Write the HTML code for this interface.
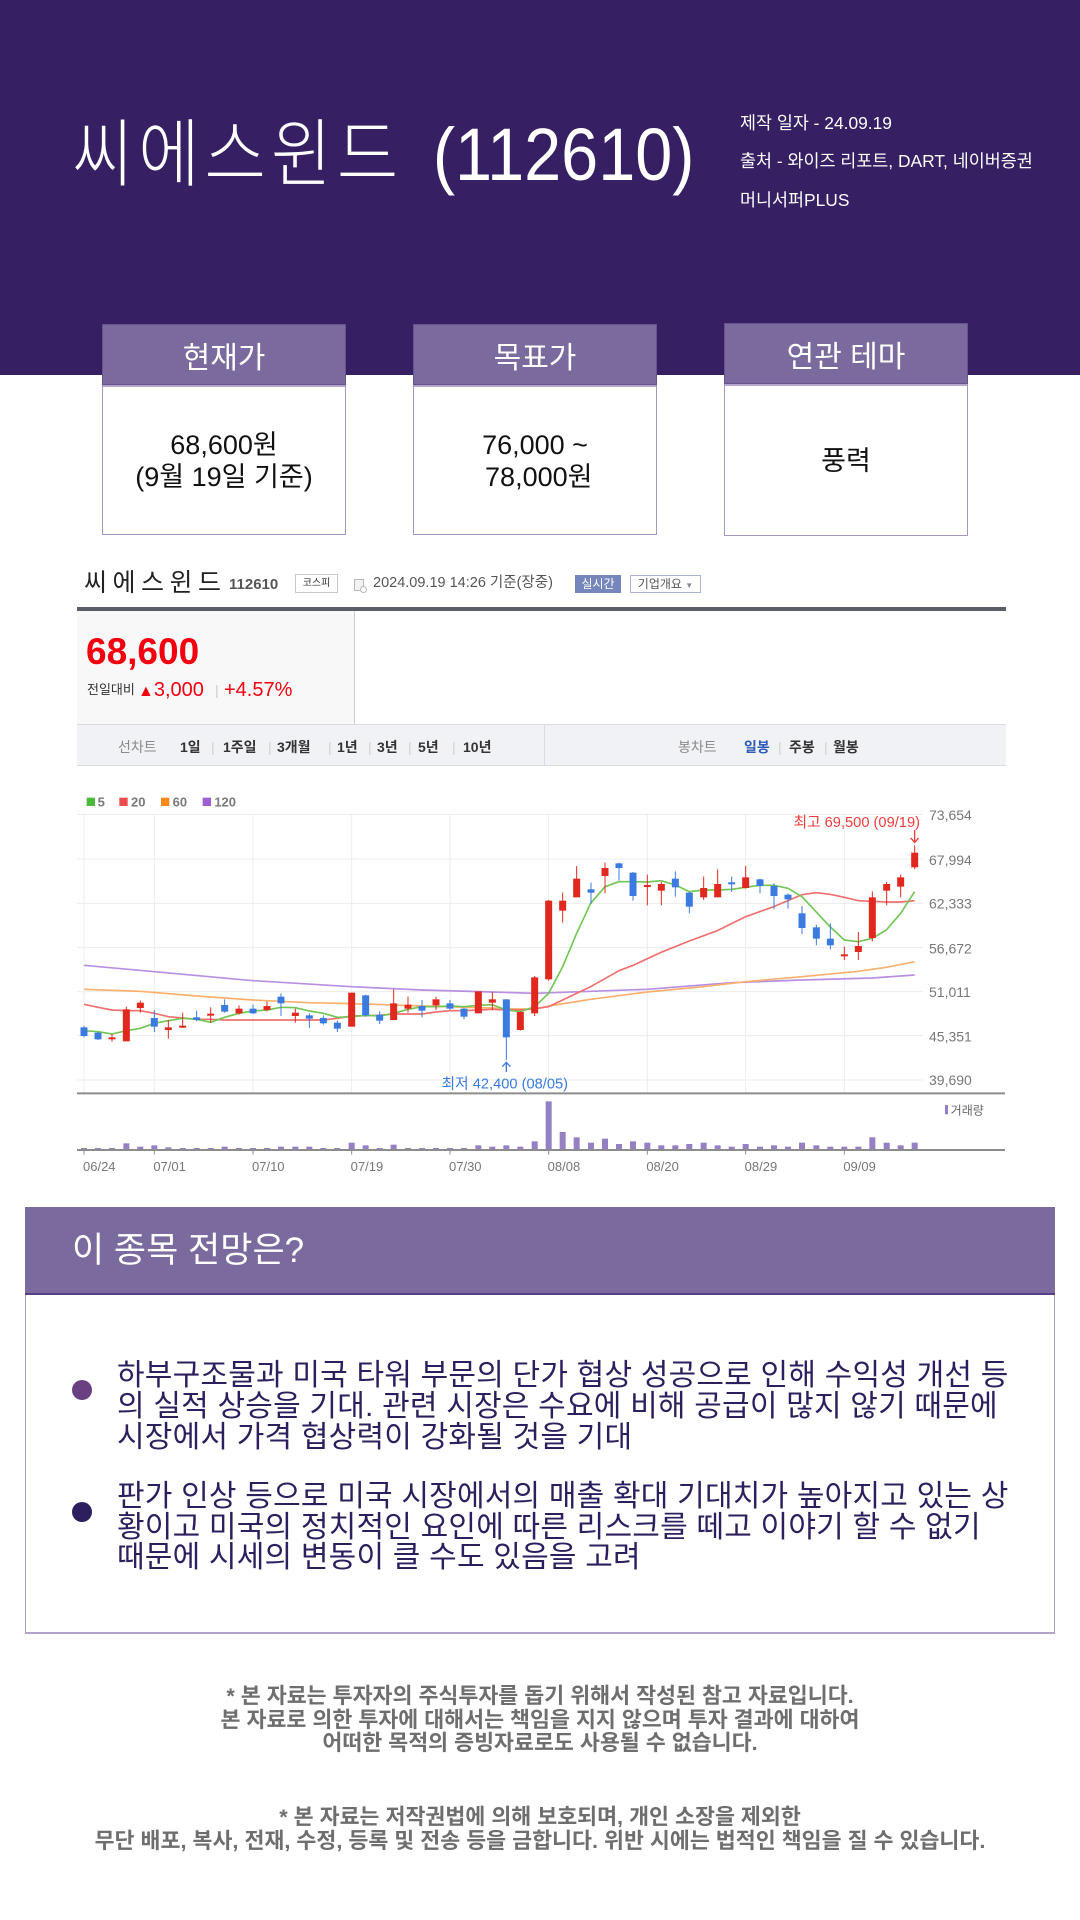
<!DOCTYPE html>
<html lang="ko">
<head>
<meta charset="utf-8">
<style>
  html,body{margin:0;padding:0;}
  body{width:1080px;height:1920px;position:relative;overflow:hidden;background:#fff;
       font-family:"Liberation Sans","Noto Sans CJK KR",sans-serif;}
  .abs{position:absolute;white-space:nowrap;}
  .hdr{position:absolute;left:0;top:0;width:1080px;height:375px;background:#361f62;}
  .title{left:72px;top:118px;font-size:74px;line-height:74px;color:#fff;font-weight:300;transform:scaleX(0.9);transform-origin:0 50%;}
  .info{left:740px;font-size:17.4px;line-height:20px;color:#fff;}
  .box{position:absolute;top:324px;width:244px;height:211px;border:1px solid #a596c3;background:#fff;box-sizing:border-box;}
  .box .bh{position:absolute;left:-1px;top:-1px;width:244px;height:61px;background:#7b6a9d;border:1px solid #66538d;box-sizing:border-box;
           color:#fff;font-size:30px;display:flex;align-items:center;justify-content:center;}
  .box .bl{position:absolute;left:0;top:60px;width:242px;height:2px;background:#b5a8cc;}
  .box .bb{position:absolute;left:0;top:62px;width:242px;bottom:0;display:flex;align-items:center;justify-content:center;
           text-align:center;font-size:27px;line-height:32px;color:#111;}
  .nav{font-size:14px;font-weight:bold;color:#333;top:738px;line-height:18px;}
  .sep{color:#d0d0d0;font-weight:normal;}
  .bul{position:absolute;width:20px;height:20px;border-radius:50%;}
  .para{left:117px;font-size:30px;line-height:31px;color:#2d1f5e;letter-spacing:0.2px;}
  .foot{left:0;width:1080px;text-align:center;font-size:21.7px;line-height:23.5px;font-weight:bold;color:#6e6e6e;}
</style>
</head>
<body>

<div class="hdr"></div>
<div class="abs title"><span style="letter-spacing:5.5px;">씨에스윈드</span><span style="margin-left:33px;">(112610)</span></div>
<div class="abs info" style="top:113px;">제작 일자 - 24.09.19</div>
<div class="abs info" style="top:151px;">출처 - 와이즈 리포트, DART, 네이버증권</div>
<div class="abs info" style="top:190px;">머니서퍼PLUS</div>

<div class="box" style="left:102px;">
  <div class="bh">현재가</div><div class="bl"></div>
  <div class="bb">68,600원<br>(9월 19일 기준)</div>
</div>
<div class="box" style="left:413px;">
  <div class="bh">목표가</div><div class="bl"></div>
  <div class="bb">76,000 ~<br>&nbsp;78,000원</div>
</div>
<div class="box" style="left:724px;height:213px;top:323px;">
  <div class="bh">연관 테마</div><div class="bl"></div>
  <div class="bb">풍력</div>
</div>

<!-- chart header -->
<div class="abs" style="left:84px;top:568px;font-size:25px;line-height:30px;color:#222;letter-spacing:5.5px;">씨에스윈드</div>
<div class="abs" style="left:229px;top:576px;font-size:15px;line-height:18px;color:#555;font-weight:bold;">112610</div>
<div class="abs" style="left:295px;top:574px;width:43px;height:19px;border:1px solid #c8c8c8;box-sizing:border-box;font-size:10px;line-height:17px;text-align:center;color:#333;">코스피</div>
<div class="abs" style="left:354px;top:579px;width:10px;height:12px;border:1px solid #b8b8b8;box-sizing:border-box;background:#f2f2f2;"></div>
<div class="abs" style="left:360px;top:586px;width:7px;height:7px;border:1px solid #b8b8b8;border-radius:50%;background:#fff;box-sizing:border-box;"></div>
<div class="abs" style="left:373px;top:574px;font-size:14.5px;line-height:18px;color:#555;">2024.09.19 14:26 기준(장중)</div>
<div class="abs" style="left:575px;top:575px;width:46px;height:18px;background:#7586bd;color:#fff;font-size:12px;line-height:18px;text-align:center;">실시간</div>
<div class="abs" style="left:630px;top:575px;width:71px;height:18px;border:1px solid #a9b4d6;box-sizing:border-box;color:#555;font-size:12px;line-height:16px;text-align:center;">기업개요 <span style="font-size:8px;color:#888;">▼</span></div>

<div class="abs" style="left:77px;top:607px;width:929px;height:4px;background:#5b5e66;"></div>
<div class="abs" style="left:77px;top:611px;width:277px;height:113px;background:#f8f8f8;border-right:1px solid #cfcfcf;"></div>
<div class="abs" style="left:86px;top:634px;font-size:37px;line-height:36px;font-weight:bold;color:#f2000f;">68,600</div>
<div class="abs" style="left:87px;top:680px;font-size:13px;line-height:20px;color:#333;">전일대비</div>
<div class="abs" style="left:138px;top:678px;font-size:20px;line-height:24px;color:#f2000f;"><span style="font-size:16px;">▲</span>3,000</div>
<div class="abs" style="left:215px;top:680px;font-size:14px;line-height:20px;color:#ccc;">|</div>
<div class="abs" style="left:224px;top:678px;font-size:20px;line-height:24px;color:#f2000f;">+4.57%</div>

<div class="abs" style="left:77px;top:724px;width:929px;height:42px;background:#f1f2f6;border-top:1px solid #d9dbe0;border-bottom:1px solid #d9dbe0;box-sizing:border-box;"></div>
<div class="abs" style="left:544px;top:724px;width:1px;height:42px;background:#d9dbe0;"></div>
<div class="abs nav" style="left:118px;color:#8a8a8a;font-weight:normal;">선차트</div>
<div class="abs nav" style="left:180px;">1일</div>
<div class="abs nav sep" style="left:211px;">|</div>
<div class="abs nav" style="left:223px;">1주일</div>
<div class="abs nav sep" style="left:268px;">|</div>
<div class="abs nav" style="left:277px;">3개월</div>
<div class="abs nav sep" style="left:328px;">|</div>
<div class="abs nav" style="left:337px;">1년</div>
<div class="abs nav sep" style="left:368px;">|</div>
<div class="abs nav" style="left:377px;">3년</div>
<div class="abs nav sep" style="left:408px;">|</div>
<div class="abs nav" style="left:418px;">5년</div>
<div class="abs nav sep" style="left:452px;">|</div>
<div class="abs nav" style="left:463px;">10년</div>
<div class="abs nav" style="left:678px;color:#8a8a8a;font-weight:normal;">봉차트</div>
<div class="abs nav" style="left:744px;color:#2e59b8;">일봉</div>
<div class="abs nav sep" style="left:778px;">|</div>
<div class="abs nav" style="left:789px;">주봉</div>
<div class="abs nav sep" style="left:824px;">|</div>
<div class="abs nav" style="left:833px;">월봉</div>

<!-- chart -->
<svg class="abs" style="left:0;top:780px;" width="1080" height="400" viewBox="0 0 3240 1200" xmlns="http://www.w3.org/2000/svg">
  <g font-family="Liberation Sans, sans-serif" font-size="39" font-weight="bold" fill="#7a7a7a">
    <rect x="260" y="53" width="25" height="25" fill="#4cb83c"/><text x="293" y="79">5</text>
    <rect x="358" y="53" width="25" height="25" fill="#ee4c4c"/><text x="393" y="79">20</text>
    <rect x="483" y="53" width="25" height="25" fill="#f7891d"/><text x="518" y="79">60</text>
    <rect x="608" y="53" width="25" height="25" fill="#9e5fd0"/><text x="643" y="79">120</text>
  </g>
  <g stroke="#ececec" stroke-width="3">
    <line x1="231" x2="2769" y1="103" y2="103"/>
    <line x1="231" x2="2769" y1="237" y2="237"/>
    <line x1="231" x2="2769" y1="370" y2="370"/>
    <line x1="231" x2="2769" y1="503" y2="503"/>
    <line x1="231" x2="2769" y1="635" y2="635"/>
    <line x1="231" x2="2769" y1="767" y2="767"/>
    <line x1="231" x2="2769" y1="900" y2="900"/>
    <line x1="252" x2="252" y1="103" y2="938"/>
    <line x1="463" x2="463" y1="103" y2="938"/>
    <line x1="759" x2="759" y1="103" y2="938"/>
    <line x1="1055" x2="1055" y1="103" y2="938"/>
    <line x1="1350" x2="1350" y1="103" y2="938"/>
    <line x1="1646" x2="1646" y1="103" y2="938"/>
    <line x1="1942" x2="1942" y1="103" y2="938"/>
    <line x1="2237" x2="2237" y1="103" y2="938"/>
    <line x1="2533" x2="2533" y1="103" y2="938"/>
  </g>
  <g fill="none" stroke-width="5" stroke-linejoin="round">
    <polyline stroke="#b88fe2" points="252,556 463,575 759,602 1055,620 1266,630 1477,636 1604,640 1941,628 2195,608 2406,600 2617,594 2744,585"/>
    <polyline stroke="#fbb06d" points="252,628 421,634 590,648 759,660 928,668 1097,672 1266,678 1435,683 1604,688 1646,678 1772,658 1941,636 2110,620 2237,605 2406,590 2575,574 2659,562 2744,545"/>
    <polyline stroke="#f07070" points="252,673 294,682 336,690 379,692 421,692 463,700 505,710 548,714 590,718 632,718 674,720 759,720 886,720 970,720 1012,715 1055,708 1097,707 1139,706 1181,702 1266,702 1308,696 1350,692 1392,692 1435,690 1477,688 1519,690 1561,690 1604,686 1646,680 1688,660 1772,620 1857,572 1899,556 1983,517 2068,483 2152,452 2237,410 2321,380 2364,362 2406,344 2448,338 2490,343 2533,352 2575,362 2617,364 2659,366 2702,366 2744,362"/>
    <polyline stroke="#72c655" points="252,752 294,755 336,762 379,752 421,745 463,730 505,722 548,715 590,718 632,727 674,712 717,700 759,693 801,690 843,682 886,683 928,693 970,700 1012,712 1055,710 1097,706 1139,708 1181,700 1224,688 1266,680 1308,680 1350,678 1392,680 1435,676 1477,674 1519,690 1561,695 1604,680 1646,640 1688,560 1730,460 1772,370 1815,320 1857,305 1899,305 1941,306 1983,302 2026,315 2068,335 2110,330 2152,330 2195,328 2237,322 2279,316 2321,316 2364,325 2406,350 2448,395 2490,440 2533,480 2575,485 2617,475 2659,450 2702,400 2744,335"/>
  </g>
  <g fill="#e0281e" stroke="#e0281e">
    <g stroke-width="3">
      <line x1="336" x2="336" y1="762" y2="785"/><line x1="379" x2="379" y1="680" y2="784"/>
      <line x1="421" x2="421" y1="662" y2="698"/><line x1="505" x2="505" y1="720" y2="776"/>
      <line x1="548" x2="548" y1="698" y2="744"/><line x1="632" x2="632" y1="682" y2="728"/>
      <line x1="717" x2="717" y1="676" y2="704"/><line x1="801" x2="801" y1="664" y2="694"/>
      <line x1="886" x2="886" y1="686" y2="728"/><line x1="1055" x2="1055" y1="638" y2="740"/>
      <line x1="1181" x2="1181" y1="628" y2="720"/><line x1="1224" x2="1224" y1="650" y2="698"/>
      <line x1="1308" x2="1308" y1="650" y2="690"/><line x1="1435" x2="1435" y1="634" y2="700"/>
      <line x1="1477" x2="1477" y1="636" y2="690"/><line x1="1561" x2="1561" y1="694" y2="752"/>
      <line x1="1604" x2="1604" y1="588" y2="708"/><line x1="1646" x2="1646" y1="360" y2="602"/>
      <line x1="1688" x2="1688" y1="338" y2="428"/><line x1="1730" x2="1730" y1="258" y2="352"/>
      <line x1="1815" x2="1815" y1="248" y2="340"/><line x1="1942" x2="1942" y1="284" y2="376"/>
      <line x1="1984" x2="1984" y1="306" y2="376"/><line x1="2111" x2="2111" y1="290" y2="360"/>
      <line x1="2153" x2="2153" y1="268" y2="352"/><line x1="2237" x2="2237" y1="258" y2="326"/>
      <line x1="2533" x2="2533" y1="500" y2="540"/><line x1="2575" x2="2575" y1="456" y2="540"/>
      <line x1="2617" x2="2617" y1="334" y2="484"/><line x1="2660" x2="2660" y1="306" y2="376"/>
      <line x1="2702" x2="2702" y1="284" y2="352"/><line x1="2744" x2="2744" y1="196" y2="268"/>
    </g>
    <g stroke="none">
      <rect x="325.5" y="772" width="21" height="6"/><rect x="368.5" y="688" width="21" height="96"/>
      <rect x="410.5" y="668" width="21" height="16"/><rect x="494.5" y="742" width="21" height="8"/>
      <rect x="537.5" y="737" width="21" height="6"/><rect x="621.5" y="701" width="21" height="6"/>
      <rect x="706.5" y="686" width="21" height="14"/><rect x="790.5" y="678" width="21" height="12"/>
      <rect x="875.5" y="698" width="21" height="10"/><rect x="1044.5" y="638" width="21" height="102"/>
      <rect x="1170.5" y="670" width="21" height="50"/><rect x="1213.5" y="674" width="21" height="12"/>
      <rect x="1297.5" y="658" width="21" height="18"/><rect x="1424.5" y="634" width="21" height="66"/>
      <rect x="1466.5" y="658" width="21" height="10"/><rect x="1550.5" y="696" width="21" height="54"/>
      <rect x="1593.5" y="592" width="21" height="108"/><rect x="1635.5" y="362" width="21" height="236"/>
      <rect x="1677.5" y="362" width="21" height="30"/><rect x="1719.5" y="296" width="21" height="56"/>
      <rect x="1804.5" y="264" width="21" height="24"/><rect x="1931.5" y="315" width="21" height="6"/>
      <rect x="1973.5" y="312" width="21" height="20"/><rect x="2100.5" y="324" width="21" height="28"/>
      <rect x="2142.5" y="312" width="21" height="40"/><rect x="2226.5" y="292" width="21" height="32"/>
      <rect x="2522.5" y="523" width="21" height="6"/><rect x="2564.5" y="498" width="21" height="18"/>
      <rect x="2606.5" y="352" width="21" height="122"/><rect x="2649.5" y="312" width="21" height="20"/>
      <rect x="2691.5" y="292" width="21" height="28"/><rect x="2733.5" y="218" width="21" height="44"/>
    </g>
  </g>
  <g fill="#3b7be0" stroke="#3b7be0">
    <g stroke-width="3">
      <line x1="252" x2="252" y1="738" y2="772"/><line x1="294" x2="294" y1="756" y2="780"/>
      <line x1="463" x2="463" y1="690" y2="756"/><line x1="590" x2="590" y1="692" y2="724"/>
      <line x1="674" x2="674" y1="658" y2="698"/><line x1="759" x2="759" y1="674" y2="702"/>
      <line x1="843" x2="843" y1="640" y2="708"/><line x1="928" x2="928" y1="700" y2="744"/>
      <line x1="970" x2="970" y1="706" y2="734"/><line x1="1012" x2="1012" y1="722" y2="756"/>
      <line x1="1097" x2="1097" y1="644" y2="710"/><line x1="1139" x2="1139" y1="694" y2="732"/>
      <line x1="1266" x2="1266" y1="660" y2="712"/><line x1="1350" x2="1350" y1="660" y2="690"/>
      <line x1="1392" x2="1392" y1="684" y2="718"/><line x1="1519" x2="1519" y1="658" y2="840"/>
      <line x1="1773" x2="1773" y1="308" y2="372"/><line x1="1857" x2="1857" y1="248" y2="302"/>
      <line x1="1899" x2="1899" y1="276" y2="362"/><line x1="2026" x2="2026" y1="274" y2="350"/>
      <line x1="2068" x2="2068" y1="336" y2="400"/><line x1="2195" x2="2195" y1="290" y2="336"/>
      <line x1="2280" x2="2280" y1="296" y2="340"/><line x1="2322" x2="2322" y1="310" y2="388"/>
      <line x1="2364" x2="2364" y1="340" y2="386"/><line x1="2406" x2="2406" y1="378" y2="462"/>
      <line x1="2449" x2="2449" y1="434" y2="496"/><line x1="2491" x2="2491" y1="430" y2="508"/>
    </g>
    <g stroke="none">
      <rect x="241.5" y="742" width="21" height="26"/><rect x="283.5" y="758" width="21" height="20"/>
      <rect x="452.5" y="714" width="21" height="26"/><rect x="579.5" y="712" width="21" height="8"/>
      <rect x="663.5" y="675" width="21" height="20"/><rect x="748.5" y="686" width="21" height="14"/>
      <rect x="832.5" y="650" width="21" height="20"/><rect x="917.5" y="706" width="21" height="10"/>
      <rect x="959.5" y="714" width="21" height="16"/><rect x="1001.5" y="728" width="21" height="18"/>
      <rect x="1086.5" y="646" width="21" height="60"/><rect x="1128.5" y="704" width="21" height="18"/>
      <rect x="1255.5" y="678" width="21" height="14"/><rect x="1339.5" y="670" width="21" height="16"/>
      <rect x="1381.5" y="686" width="21" height="24"/><rect x="1508.5" y="658" width="21" height="114"/>
      <rect x="1762.5" y="328" width="21" height="10"/><rect x="1846.5" y="250" width="21" height="14"/>
      <rect x="1888.5" y="278" width="21" height="70"/><rect x="2015.5" y="296" width="21" height="26"/>
      <rect x="2057.5" y="338" width="21" height="42"/><rect x="2184.5" y="307" width="21" height="6"/>
      <rect x="2269.5" y="298" width="21" height="20"/><rect x="2311.5" y="318" width="21" height="30"/>
      <rect x="2353.5" y="344" width="21" height="14"/><rect x="2395.5" y="400" width="21" height="44"/>
      <rect x="2438.5" y="442" width="21" height="34"/><rect x="2480.5" y="476" width="21" height="20"/>
    </g>
  </g>
  <g font-family="Liberation Sans, Noto Sans CJK KR, sans-serif" font-size="44">
    <text x="2760" y="141" text-anchor="end" fill="#f03c3c">최고 69,500 (09/19)</text>
    <text x="1325" y="925" fill="#3b7be0">최저 42,400 (08/05)</text>
  </g>
  <g fill="none" stroke-width="4">
    <line x1="2744" x2="2744" y1="150" y2="186" stroke="#f03c3c"/>
    <polyline points="2732,174 2744,187 2756,174" stroke="#f03c3c"/>
    <line x1="1519" x2="1519" y1="848" y2="876" stroke="#3b7be0"/>
    <polyline points="1507,860 1519,847 1531,860" stroke="#3b7be0"/>
  </g>
  <g font-family="Liberation Sans, sans-serif" font-size="42" fill="#777">
    <text x="2787" y="120">73,654</text>
    <text x="2787" y="255">67,994</text>
    <text x="2787" y="385">62,333</text>
    <text x="2787" y="520">56,672</text>
    <text x="2787" y="651">51,011</text>
    <text x="2787" y="785">45,351</text>
    <text x="2787" y="915">39,690</text>
  </g>
  <line x1="231" x2="3015" y1="940" y2="940" stroke="#8c8c8c" stroke-width="6"/>
  <g fill="#9580c4">
    <rect x="243" y="1104" width="18" height="6"/><rect x="285" y="1104" width="18" height="6"/>
    <rect x="327" y="1104" width="18" height="6"/><rect x="370" y="1090" width="18" height="20"/>
    <rect x="412" y="1100" width="18" height="10"/><rect x="454" y="1096" width="18" height="14"/>
    <rect x="496" y="1102" width="18" height="8"/><rect x="539" y="1104" width="18" height="6"/>
    <rect x="581" y="1104" width="18" height="6"/><rect x="623" y="1104" width="18" height="6"/>
    <rect x="665" y="1100" width="18" height="10"/><rect x="708" y="1104" width="18" height="6"/>
    <rect x="750" y="1104" width="18" height="6"/><rect x="792" y="1104" width="18" height="6"/>
    <rect x="834" y="1100" width="18" height="10"/><rect x="877" y="1100" width="18" height="10"/>
    <rect x="919" y="1100" width="18" height="10"/><rect x="961" y="1104" width="18" height="6"/>
    <rect x="1003" y="1104" width="18" height="6"/><rect x="1046" y="1088" width="18" height="22"/>
    <rect x="1088" y="1096" width="18" height="14"/><rect x="1130" y="1104" width="18" height="6"/>
    <rect x="1172" y="1094" width="18" height="16"/><rect x="1215" y="1104" width="18" height="6"/>
    <rect x="1257" y="1104" width="18" height="6"/><rect x="1299" y="1104" width="18" height="6"/>
    <rect x="1341" y="1104" width="18" height="6"/><rect x="1383" y="1104" width="18" height="6"/>
    <rect x="1426" y="1096" width="18" height="14"/><rect x="1468" y="1100" width="18" height="10"/>
    <rect x="1510" y="1096" width="18" height="14"/><rect x="1552" y="1100" width="18" height="10"/>
    <rect x="1595" y="1084" width="18" height="26"/><rect x="1637" y="964" width="18" height="146"/>
    <rect x="1679" y="1056" width="18" height="54"/><rect x="1721" y="1072" width="18" height="38"/>
    <rect x="1764" y="1088" width="18" height="22"/><rect x="1806" y="1076" width="18" height="34"/>
    <rect x="1848" y="1092" width="18" height="18"/><rect x="1890" y="1084" width="18" height="26"/>
    <rect x="1933" y="1088" width="18" height="22"/><rect x="1975" y="1096" width="18" height="14"/>
    <rect x="2017" y="1096" width="18" height="14"/><rect x="2059" y="1092" width="18" height="18"/>
    <rect x="2102" y="1088" width="18" height="22"/><rect x="2144" y="1096" width="18" height="14"/>
    <rect x="2186" y="1100" width="18" height="10"/><rect x="2228" y="1092" width="18" height="18"/>
    <rect x="2271" y="1100" width="18" height="10"/><rect x="2313" y="1096" width="18" height="14"/>
    <rect x="2355" y="1100" width="18" height="10"/><rect x="2397" y="1088" width="18" height="22"/>
    <rect x="2440" y="1096" width="18" height="14"/><rect x="2482" y="1100" width="18" height="10"/>
    <rect x="2524" y="1100" width="18" height="10"/><rect x="2566" y="1100" width="18" height="10"/>
    <rect x="2608" y="1072" width="18" height="38"/><rect x="2651" y="1088" width="18" height="22"/>
    <rect x="2693" y="1096" width="18" height="14"/><rect x="2735" y="1088" width="18" height="22"/>
    <rect x="2835" y="975" width="9" height="28"/>
  </g>
  <text x="2852" y="1003" font-family="Liberation Sans, Noto Sans CJK KR, sans-serif" font-size="36" fill="#666">거래량</text>
  <line x1="231" x2="3015" y1="1110" y2="1110" stroke="#8c8c8c" stroke-width="6"/>
  <g stroke="#8c8c8c" stroke-width="3">
    <line x1="252" x2="252" y1="1110" y2="1124"/><line x1="463" x2="463" y1="1110" y2="1124"/>
    <line x1="759" x2="759" y1="1110" y2="1124"/><line x1="1055" x2="1055" y1="1110" y2="1124"/>
    <line x1="1350" x2="1350" y1="1110" y2="1124"/><line x1="1646" x2="1646" y1="1110" y2="1124"/>
    <line x1="1942" x2="1942" y1="1110" y2="1124"/><line x1="2237" x2="2237" y1="1110" y2="1124"/>
    <line x1="2533" x2="2533" y1="1110" y2="1124"/>
  </g>
  <g font-family="Liberation Sans, sans-serif" font-size="39" fill="#777">
    <text x="249" y="1173">06/24</text>
    <text x="460" y="1173">07/01</text>
    <text x="756" y="1173">07/10</text>
    <text x="1052" y="1173">07/19</text>
    <text x="1347" y="1173">07/30</text>
    <text x="1643" y="1173">08/08</text>
    <text x="1939" y="1173">08/20</text>
    <text x="2234" y="1173">08/29</text>
    <text x="2530" y="1173">09/09</text>
  </g>
</svg>

<!-- outlook box -->
<div class="abs" style="left:25px;top:1207px;width:1030px;height:427px;border:1px solid #a999c5;border-bottom:2px solid #b3a3c9;box-sizing:border-box;background:#fff;"></div>
<div class="abs" style="left:25px;top:1207px;width:1030px;height:86px;background:#7b6a9d;"></div>
<div class="abs" style="left:25px;top:1293px;width:1030px;height:2px;background:#5a3f86;"></div>
<div class="abs" style="left:72px;top:1231px;font-size:35px;line-height:40px;color:#fff;">이 종목 전망은?</div>

<div class="bul" style="left:72px;top:1380px;background:#6a4083;"></div>
<div class="abs para" style="top:1360px;">하부구조물과 미국 타워 부문의 단가 협상 성공으로 인해 수익성 개선 등<br>의 실적 상승을 기대. 관련 시장은 수요에 비해 공급이 많지 않기 때문에<br>시장에서 가격 협상력이 강화될 것을 기대</div>

<div class="bul" style="left:72px;top:1502px;background:#2d1f5e;"></div>
<div class="abs para" style="top:1482px;line-height:30.5px;">판가 인상 등으로 미국 시장에서의 매출 확대 기대치가 높아지고 있는 상<br>황이고 미국의 정치적인 요인에 따른 리스크를 떼고 이야기 할 수 없기<br>때문에 시세의 변동이 클 수도 있음을 고려</div>

<!-- footer -->
<div class="abs foot" style="top:1684px;">* 본 자료는 투자자의 주식투자를 돕기 위해서 작성된 참고 자료입니다.<br>본 자료로 의한 투자에 대해서는 책임을 지지 않으며 투자 결과에 대하여<br>어떠한 목적의 증빙자료로도 사용될 수 없습니다.</div>
<div class="abs foot" style="top:1805px;">* 본 자료는 저작권법에 의해 보호되며, 개인 소장을 제외한<br>무단 배포, 복사, 전재, 수정, 등록 및 전송 등을 금합니다. 위반 시에는 법적인 책임을 질 수 있습니다.</div>

</body>
</html>
